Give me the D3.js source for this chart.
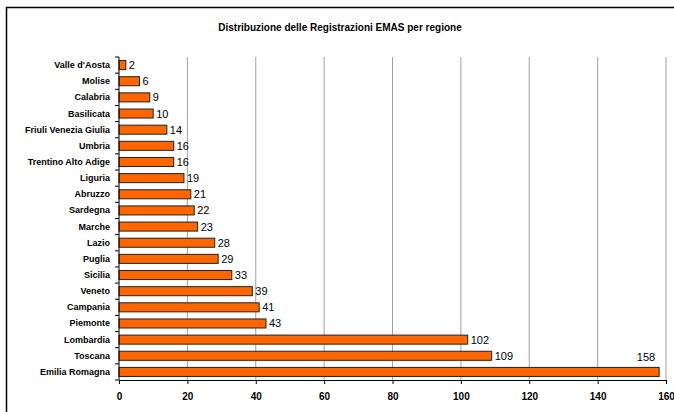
<!DOCTYPE html>
<html>
<head>
<meta charset="utf-8">
<script src="https://cdn.jsdelivr.net/npm/d3@7"></script>
<style>
body { margin: 0; background: #fff; }
text { font-family: "Liberation Sans", Arial, sans-serif; }
</style>
</head>
<body>
<script>
var regions = ["Valle d'Aosta", "Molise", "Calabria", "Basilicata", "Friuli Venezia Giulia",
    "Umbria", "Trentino Alto Adige", "Liguria", "Abruzzo", "Sardegna", "Marche", "Lazio",
    "Puglia", "Sicilia", "Veneto", "Campania", "Piemonte", "Lombardia", "Toscana", "Emilia Romagna"];
var counts = [2, 6, 9, 10, 14, 16, 16, 19, 21, 22, 23, 28, 29, 33, 39, 41, 43, 102, 109, 158];
var xTicks = [0, 20, 40, 60, 80, 100, 120, 140, 160];

var W = 674, H = 412;
var margin = {top: 57, right: 8, bottom: 32, left: 119};
var width = W - margin.left - margin.right,
    height = H - margin.top - margin.bottom;

var root = d3.select("body").append("svg")
    .attr("width", W)
    .attr("height", H);

// chart frame
root.append("rect")
    .attr("x", 6.5).attr("y", 7.5)
    .attr("width", W).attr("height", H)
    .attr("fill", "none")
    .attr("stroke", "#000")
    .attr("stroke-width", 1.5);

root.append("text")
    .attr("x", 340)
    .attr("y", 31)
    .attr("text-anchor", "middle")
    .style("font-size", "10px")
    .style("font-weight", "bold")
    .text("Distribuzione delle Registrazioni EMAS per regione");

var svg = root.append("g")
    .attr("transform", "translate(" + margin.left + "," + margin.top + ")");

var x = d3.scaleLinear().domain([0, 160]).range([0, 547]);
var y = d3.scaleBand().domain(regions).range([0, height]).paddingInner(0.44).paddingOuter(0.22);

// gridlines
svg.selectAll(".grid")
    .data(xTicks.slice(1))
    .enter()
    .append("line")
    .attr("x1", d => x(d)).attr("x2", d => x(d))
    .attr("y1", 0).attr("y2", height)
    .attr("stroke", "#a0a0a0")
    .attr("stroke-width", 1);

svg.selectAll(".bar")
    .data(counts)
    .enter()
    .append("rect")
    .attr("x", x(0))
    .attr("y", (d, i) => y(regions[i]))
    .attr("width", d => x(d) - x(0))
    .attr("height", y.bandwidth())
    .attr("fill", "#ff6600")
    .attr("stroke", "#222")
    .attr("stroke-width", 1);

svg.selectAll(".val")
    .data(counts)
    .enter()
    .append("text")
    .attr("x", (d, i) => i == counts.length - 1 ? x(d) - 4 : x(d) + 3)
    .attr("y", (d, i) => i == counts.length - 1 ? y(regions[i]) - 6 : y(regions[i]) + y.bandwidth() / 2 + 4)
    .attr("text-anchor", (d, i) => i == counts.length - 1 ? "end" : "start")
    .style("font-size", "11px")
    .attr("fill", "#000")
    .text(d => d);

// left axis: ticks on band boundaries
var boundaries = regions.map((r, i) => i * y.step()).concat([height]);
svg.append("line")
    .attr("x1", 0).attr("x2", 0)
    .attr("y1", 0).attr("y2", height)
    .attr("stroke", "#000");
svg.selectAll(".ytick")
    .data(boundaries)
    .enter()
    .append("line")
    .attr("x1", -4).attr("x2", 0)
    .attr("y1", d => d).attr("y2", d => d)
    .attr("stroke", "#000");

svg.selectAll(".ylab")
    .data(regions)
    .enter()
    .append("text")
    .attr("x", -9)
    .attr("y", d => y(d) + y.bandwidth() / 2 + 3)
    .attr("text-anchor", "end")
    .style("font-size", "9px")
    .style("font-weight", "bold")
    .text(d => d);

var xAxis = svg.append("g")
    .attr("transform", "translate(0," + height + ")")
    .call(d3.axisBottom(x).tickValues(xTicks).tickSize(4).tickFormat(d3.format("d")));
xAxis.select(".domain").attr("stroke", "#000");
xAxis.selectAll("text")
    .attr("dy", "1.25em")
    .attr("fill", "#000")
    .style("font-size", "10px")
    .style("font-weight", "bold")
    .style("font-family", "Liberation Sans, Arial, sans-serif");
</script>
</body>
</html>
